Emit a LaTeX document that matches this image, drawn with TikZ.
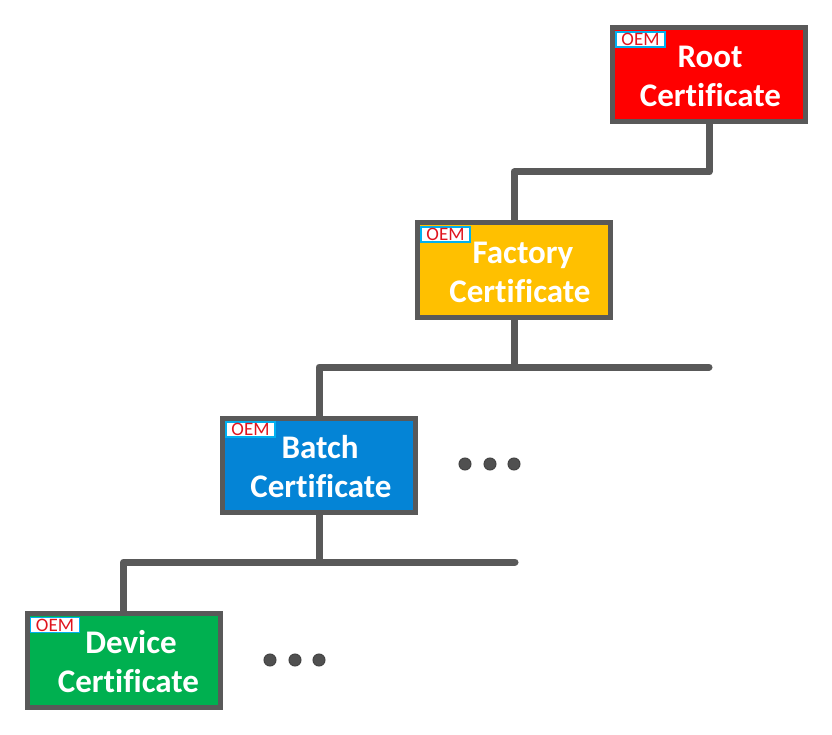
\documentclass[tikz,border=0pt]{standalone}
\usepackage{fontspec}
\setmainfont{Carlito}[Ligatures=NoCommon]
\definecolor{lineg}{HTML}{595959}
\definecolor{rootc}{HTML}{FF0000}
\definecolor{factc}{HTML}{FFC000}
\definecolor{batchc}{HTML}{0484D6}
\definecolor{devc}{HTML}{00B050}
\definecolor{oemblue}{HTML}{00B0F0}
\definecolor{oemred}{HTML}{E0141E}
\definecolor{dotc}{HTML}{505050}
\begin{document}
\begin{tikzpicture}[x=1pt,y=-1pt,
  cert/.style={draw=lineg, line width=5pt, rectangle, minimum width=193pt, minimum height=94pt,
    outer sep=0pt, inner sep=0pt},
  ctext/.style={text=white, anchor=base, inner sep=0pt, font=\bfseries\fontsize{33}{40}\selectfont},
  oem/.style={draw=oemblue, fill=white, line width=1.5pt, minimum width=49pt, minimum height=15pt,
    inner sep=0pt, outer sep=0pt, anchor=north west, text=oemred, font=\fontsize{19}{19}\selectfont},
  conn/.style={draw=lineg, line width=7pt, line join=round, line cap=round},
  dotn/.style={circle, fill=dotc, draw=dotc!85!black, line width=1pt, minimum size=12pt, inner sep=0pt}]
\useasboundingbox (0,0) rectangle (832,735);
\coordinate (e1) at (709,367);
\coordinate (e2) at (515,562);
\path (709,75) coordinate (rc) (514,270) coordinate (fc) (319,465) coordinate (bc) (123.5,660.5) coordinate (dc);
% connectors (drawn first, boxes cover their ends)
\draw[conn] (rc) -- (709,172) -| (fc);
\draw[conn] (fc) -- (fc |- e1);
\draw[conn] (e1) -| (bc);
\draw[conn] (bc) -- (bc |- e2);
\draw[conn] (e2) -| (dc);
% boxes
\node[cert, fill=rootc] (root) at (rc) {};
\node[cert, fill=factc] (fact) at (fc) {};
\node[cert, fill=batchc] (batch) at (bc) {};
\node[cert, fill=devc] (dev) at (dc) {};
% texts
\node[ctext] (root1) at (710,68) {Root};
\node[ctext] (root2) at (710.5,107) {Certificate};
\node[ctext] (fact1) at (523,264) {Factory};
\node[ctext] (fact2) at (520,302.5) {Certificate};
\node[ctext] (batch1) at (320,458.5) {Batch};
\node[ctext] (batch2) at (321,497.5) {Certificate};
\node[ctext] (dev1) at (131,653.5) {Device};
\node[ctext] (dev2) at (128.5,692) {Certificate};
% OEM labels
\node[oem] (oem1) at ([xshift=3.5pt,yshift=-4pt]root.north west) {OEM};
\node[oem] (oem2) at ([xshift=3.5pt,yshift=-4pt]fact.north west) {OEM};
\node[oem] (oem3) at ([xshift=3.5pt,yshift=-4pt]batch.north west) {OEM};
\node[oem] (oem4) at ([xshift=3.5pt,yshift=-4pt]dev.north west) {OEM};
% dots
\node[dotn] (d1) at (465,464) {};
\node[dotn] (d2) at (490,464) {};
\node[dotn] (d3) at (514,464) {};
\node[dotn] (d4) at (270,660) {};
\node[dotn] (d5) at (295,660) {};
\node[dotn] (d6) at (319,660) {};
\end{tikzpicture}
\end{document}
